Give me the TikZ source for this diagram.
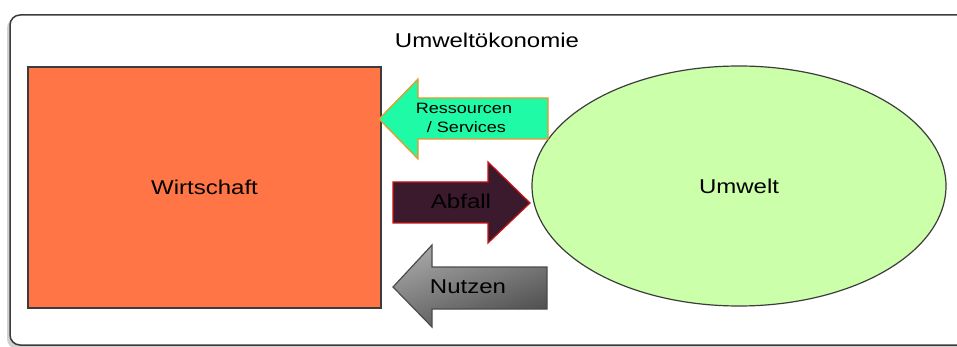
\documentclass[tikz,border=0pt]{standalone}
\usepackage{fontspec}
\setmainfont{Liberation Sans}[FakeStretch=1.2]
\usetikzlibrary{shapes.geometric,shadings}
\definecolor{wirt}{RGB}{255,117,70}
\definecolor{umw}{RGB}{204,255,170}
\definecolor{ress}{RGB}{30,250,165}
\definecolor{ressb}{RGB}{240,150,40}
\definecolor{abf}{RGB}{60,26,46}
\definecolor{abfb}{RGB}{200,20,20}
\definecolor{frame}{RGB}{60,60,60}
\tikzset{
  lbl/.style={font=\fontsize{20}{22}\selectfont, text=black, inner sep=0pt},
  small/.style={font=\fontsize{15}{19}\selectfont, text=black, inner sep=0pt, align=center},
  arrowshape/.style={line width=1.2pt, line join=miter},
}
\begin{document}
\begin{tikzpicture}[x=1pt,y=-1pt]
\useasboundingbox (0,0) rectangle (957,347);
\fill[white] (0,0) rectangle (957,347);
% frame shadow
\fill[black!18, rounded corners=10pt] (7,18) rectangle (980,349);
\draw[frame, line width=1.5pt, fill=white, rounded corners=10pt] (10,15) rectangle (980,345);
\node[lbl] (title) at (487,40) {Umweltökonomie};
% Wirtschaft
\node[draw=frame, line width=1.2pt, fill=wirt, minimum width=353pt, minimum height=241pt, inner sep=0pt] (wirt) at (204.5,187.5) {};
\node[lbl] (wirtt) at (wirt.center) {Wirtschaft};
% Umwelt
\node[draw=frame, line width=1.2pt, fill=umw, shape=ellipse, minimum width=414pt, minimum height=240pt, inner sep=0pt] (umw) at (739,186) {};
\node[lbl] (umwt) at (umw.center) {Umwelt};
% Ressourcen arrow
\draw[arrowshape, draw=ressb, fill=ress] (379,119) -- (418,79) -- (418,98) -- (548,98) -- (548,139) -- (418,139) -- (418,159) -- cycle;
\node[small] (ress) at (464,118) {Ressourcen\\\ / Services};
% Abfall arrow
\draw[arrowshape, draw=abfb, fill=abf] (393,182) -- (488,182) -- (488,162) -- (530,203) -- (488,243) -- (488,223) -- (393,223) -- cycle;
\node[lbl] (abf) at (461,201) {Abfall};
% Nutzen arrow
\draw[arrowshape, draw=black!70, top color=black!35, bottom color=black!70, shading angle=20] (393,287) -- (432,245) -- (432,267) -- (547,267) -- (547,309) -- (432,309) -- (432,327) -- cycle;
\node[lbl] (nutz) at (468,287) {Nutzen};
\end{tikzpicture}
\end{document}
